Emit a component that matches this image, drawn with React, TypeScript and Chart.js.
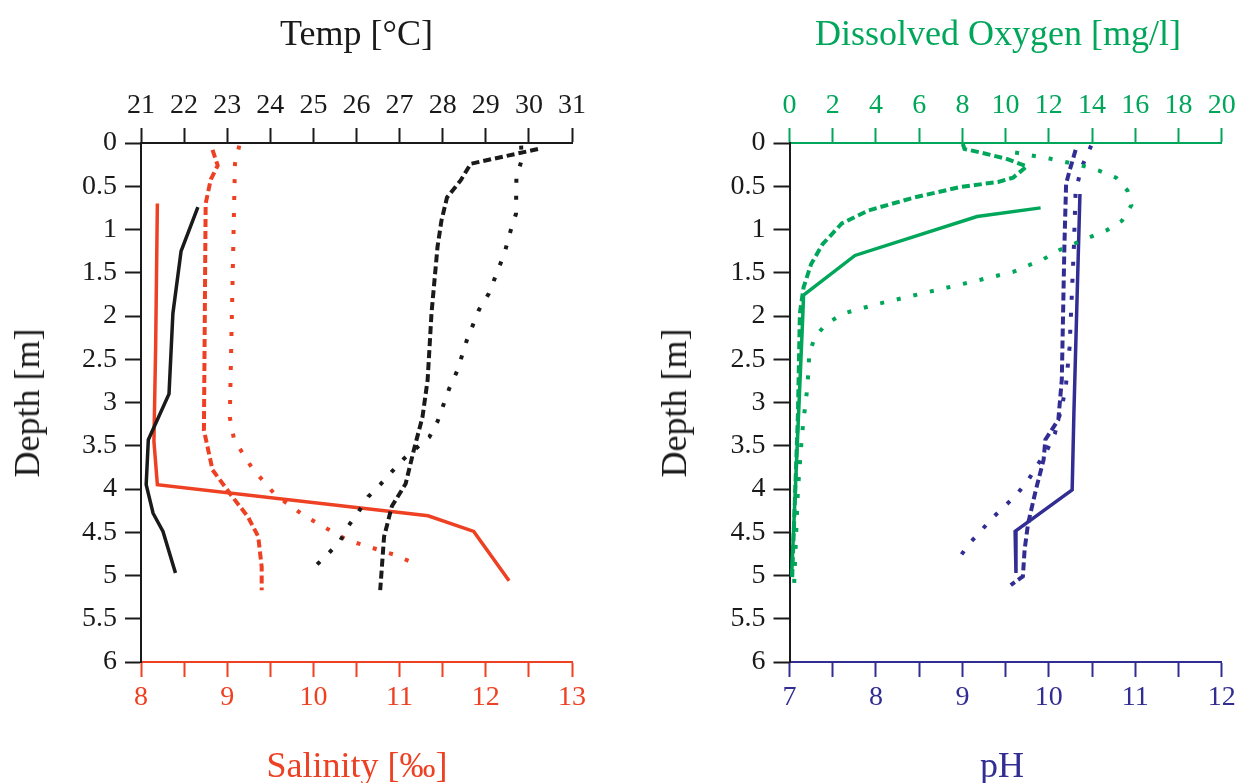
import React, { useEffect, useRef } from "react";
import { Chart, registerables } from "chart.js";
Chart.register(...registerables);

const FONT = "'Liberation Serif', 'Times New Roman', serif";
const RED = "#ee4023";
const GREEN = "#00a65a";
const BLUE = "#322d93";
const BLACK = "#1a1a1a";

// ---------- Left panel: Temperature (top axis) & Salinity (bottom axis) ----------
const tempTicks = [21, 31];
const salinityTicks = [8, 13];
const depthRange = [0, 6];

const tempSolidDepth = [0.74, 1.25, 1.97, 2.9, 3.43, 3.95, 4.28, 4.49, 4.97];
const tempSolid = [22.32, 21.93, 21.74, 21.65, 21.17, 21.12, 21.28, 21.51, 21.8];

const tempDashDepth = [0.07, 0.24, 0.43, 0.63, 0.9, 1.2, 1.97, 2.74, 3.17, 3.55, 3.94, 4.2, 4.55, 5.17];
const tempDash = [30.21, 28.65, 28.42, 28.1, 27.97, 27.88, 27.74, 27.65, 27.53, 27.33, 27.14, 26.82, 26.64, 26.55];

const tempDotDepth = [0.03, 0.2, 0.4, 0.82, 0.97, 1.28, 1.74, 1.93, 2.28, 2.63, 2.84, 3.22, 3.4, 3.65, 3.8, 3.95, 4.09, 4.27, 4.42, 4.59, 4.74, 4.88];
const tempDot = [29.82, 29.83, 29.71, 29.7, 29.6, 29.43, 29.07, 28.84, 28.56, 28.34, 28.15, 27.88, 27.69, 27.1, 26.82, 26.55, 26.27, 26.04, 25.82, 25.63, 25.36, 25.07];

const salSolidDepth = [0.7, 2.35, 3.45, 3.95, 4.31, 4.49, 5.06];
const salSolid = [8.19, 8.17, 8.15, 8.19, 11.33, 11.86, 12.27];

const salDashDepth = [0.08, 0.26, 0.42, 0.7, 3.32, 3.78, 4.09, 4.32, 4.55, 4.9, 5.17];
const salDash = [8.83, 8.89, 8.81, 8.75, 8.73, 8.83, 9.06, 9.24, 9.36, 9.4, 9.4];

const salDotDepth = [0.03, 0.24, 3.17, 3.43, 3.76, 4.07, 4.3, 4.59, 4.76, 4.86];
const salDot = [9.14, 9.09, 9.03, 9.08, 9.29, 9.56, 9.88, 10.39, 10.94, 11.17];

// ---------- Right panel: Dissolved oxygen (top axis) & pH (bottom axis) ----------
const doTicks = [0, 20];
const phTicks = [7, 12];

const doSolidDepth = [0.75, 0.85, 1.3, 1.76, 1.97, 5.0];
const doSolid = [11.62, 8.68, 3.03, 0.65, 0.62, 0.1];

const doDashDepth = [0.01, 0.07, 0.11, 0.18, 0.27, 0.4, 0.45, 0.51, 0.63, 0.78, 0.93, 1.17, 1.4, 1.67, 1.97, 3.13, 5.05];
const doDash = [8.02, 8.1, 8.85, 10.0, 10.98, 10.35, 9.65, 7.88, 5.77, 3.65, 2.42, 1.53, 1.0, 0.65, 0.48, 0.39, 0.12];

const doDotDepth = [0.11, 0.18, 0.26, 0.32, 0.4, 0.55, 0.72, 0.9, 1.01, 1.09, 1.24, 1.34, 1.49, 1.59, 1.72, 1.86, 1.97, 2.09, 2.24, 2.43, 2.82, 3.2, 3.4, 4.01, 5.13];
const doDot = [10.44, 12.03, 13.53, 14.32, 15.11, 15.64, 15.82, 15.38, 14.67, 13.88, 12.47, 11.77, 10.35, 8.68, 6.47, 4.09, 2.5, 1.71, 1.18, 0.92, 0.83, 0.65, 0.57, 0.39, 0.21];

const phSolidDepth = [0.59, 3.13, 4.01, 4.49, 4.97];
const phSolid = [10.36, 10.29, 10.27, 9.61, 9.62];

const phDashDepth = [0.08, 0.32, 0.47, 1.2, 2.74, 3.2, 3.43, 3.66, 4.01, 4.4, 4.7, 5.01, 5.11];
const phDash = [10.31, 10.24, 10.2, 10.18, 10.15, 10.11, 9.96, 9.94, 9.85, 9.76, 9.72, 9.7, 9.56];

const phDotDepth = [0.03, 0.28, 0.55, 1.2, 2.36, 2.78, 3.01, 3.36, 3.55, 3.72, 3.9, 4.06, 4.2, 4.34, 4.49, 4.63, 4.8];
const phDot = [10.49, 10.38, 10.31, 10.29, 10.24, 10.2, 10.16, 10.07, 9.98, 9.87, 9.76, 9.63, 9.49, 9.34, 9.21, 9.08, 8.96];

type Style = "solid" | "dash" | "dot";

function series(label: string, xs: number[], ys: number[], color: string, style: Style, axis: string) {
  const dash = style === "dash" ? [8, 4] : style === "dot" ? [4, 13] : [];
  return {
    label,
    data: xs.map((x, i) => ({ x, y: ys[i] })),
    xAxisID: axis,
    yAxisID: "y",
    showLine: true,
    borderColor: color,
    backgroundColor: color,
    borderWidth: style === "solid" ? 3.5 : 4,
    borderDash: dash,
    borderCapStyle: "butt",
    borderJoinStyle: "miter",
    pointRadius: 0,
    tension: 0,
    fill: false,
    clip: false,
  };
}

const CANVAS_W = 640;
const CANVAS_H = 783;
const PLOT_TOP = 143;
const PLOT_BOTTOM = 662;

function xScale(pos: "top" | "bottom", range: number[], step: number, color: string, integerOnly: boolean, pad: number) {
  return {
    type: "linear",
    position: pos,
    min: range[0],
    max: range[1],
    ticks: {
      stepSize: step,
      autoSkip: false,
      maxTicksLimit: 100,
      maxRotation: 0,
      color,
      padding: pad,
      font: { family: FONT, size: 28 },
      callback: (v: number) => (integerOnly && Math.abs(v - Math.round(v)) > 1e-6 ? "" : String(Math.round(v * 100) / 100)),
    },
    grid: { drawOnChartArea: false, drawTicks: true, tickLength: 15, tickColor: color, tickWidth: 2, color },
    border: { display: true, color, width: 2 },
    afterFit: (s: any) => {
      s.height = pos === "top" ? PLOT_TOP : CANVAS_H - PLOT_BOTTOM;
    },
  };
}

function Panel(props: { left: number; yWidth: number; plotRight: number; top: any; bottom: any; datasets: any[] }) {
  const ref = useRef<HTMLCanvasElement | null>(null);
  useEffect(() => {
    if (!ref.current) return;
    const chart = new Chart(ref.current, {
      type: "scatter",
      data: { datasets: props.datasets },
      options: {
        responsive: false,
        maintainAspectRatio: false,
        animation: false,
        devicePixelRatio: 1,
        layout: { padding: { left: 0, top: 0, bottom: 0, right: CANVAS_W - props.plotRight } },
        plugins: { legend: { display: false }, tooltip: { enabled: false }, title: { display: false } },
        scales: {
          xTop: props.top,
          xBot: props.bottom,
          y: {
            type: "linear",
            position: "left",
            reverse: true,
            min: depthRange[0],
            max: depthRange[1],
            ticks: {
              stepSize: 0.5,
              autoSkip: false,
              maxTicksLimit: 100,
              color: BLACK,
              padding: 8,
              font: { family: FONT, size: 28 },
              callback: (v: number) => String(Math.round(v * 10) / 10),
            },
            grid: { drawOnChartArea: false, drawTicks: true, tickLength: 16, tickColor: BLACK, tickWidth: 2, color: BLACK },
            border: { display: true, color: BLACK, width: 2 },
            afterFit: (s: any) => {
              s.width = props.yWidth;
            },
          },
        },
      } as any,
    } as any);
    return () => chart.destroy();
  }, []);
  return (
    <canvas
      ref={ref}
      width={CANVAS_W}
      height={CANVAS_H}
      style={{ position: "absolute", left: props.left, top: 0, width: CANVAS_W, height: CANVAS_H }}
    />
  );
}

const textBase: React.CSSProperties = {
  position: "absolute",
  fontFamily: FONT,
  fontSize: 36,
  lineHeight: "36px",
  whiteSpace: "nowrap",
};

function HTitle(p: { text: string; cx: number; top: number; color: string }) {
  return (
    <div style={{ ...textBase, left: p.cx, top: p.top, color: p.color, transform: "translateX(-50%)" }}>{p.text}</div>
  );
}

function VTitle(p: { text: string; cx: number; cy: number; color: string }) {
  return (
    <div
      style={{
        ...textBase,
        left: p.cx,
        top: p.cy,
        color: p.color,
        transform: "translate(-50%, -50%) rotate(-90deg)",
      }}
    >
      {p.text}
    </div>
  );
}

export default function App() {
  const leftSets = [
    series("Temp solid", tempSolid, tempSolidDepth, BLACK, "solid", "xTop"),
    series("Temp dashed", tempDash, tempDashDepth, BLACK, "dash", "xTop"),
    series("Temp dotted", tempDot, tempDotDepth, BLACK, "dot", "xTop"),
    series("Salinity solid", salSolid, salSolidDepth, RED, "solid", "xBot"),
    series("Salinity dashed", salDash, salDashDepth, RED, "dash", "xBot"),
    series("Salinity dotted", salDot, salDotDepth, RED, "dot", "xBot"),
  ];
  const rightSets = [
    series("DO solid", doSolid, doSolidDepth, GREEN, "solid", "xTop"),
    series("DO dashed", doDash, doDashDepth, GREEN, "dash", "xTop"),
    series("DO dotted", doDot, doDotDepth, GREEN, "dot", "xTop"),
    series("pH solid", phSolid, phSolidDepth, BLUE, "solid", "xBot"),
    series("pH dashed", phDash, phDashDepth, BLUE, "dash", "xBot"),
    series("pH dotted", phDot, phDotDepth, BLUE, "dot", "xBot"),
  ];
  return (
    <div
      style={{
        position: "absolute",
        left: 0,
        top: 0,
        width: 1236,
        height: 783,
        overflow: "hidden",
        background: "#ffffff",
      }}
    >
      <Panel
        left={0}
        yWidth={141}
        plotRight={572}
        top={xScale("top", tempTicks, 1, BLACK, false, 6)}
        bottom={xScale("bottom", salinityTicks, 0.5, RED, true, 4)}
        datasets={leftSets}
      />
      <Panel
        left={618}
        yWidth={171.5}
        plotRight={603.7}
        top={xScale("top", doTicks, 2, GREEN, false, 6)}
        bottom={xScale("bottom", phTicks, 0.5, BLUE, true, 4)}
        datasets={rightSets}
      />
      <HTitle text="Temp [°C]" cx={356.5} top={15} color={BLACK} />
      <HTitle text="Salinity [‰]" cx={357} top={747} color={RED} />
      <HTitle text="Dissolved Oxygen [mg/l]" cx={998} top={15} color={GREEN} />
      <HTitle text="pH" cx={1002} top={747} color={BLUE} />
      <VTitle text="Depth [m]" cx={27} cy={402.5} color={BLACK} />
      <VTitle text="Depth [m]" cx={674} cy={402.5} color={BLACK} />
    </div>
  );
}
